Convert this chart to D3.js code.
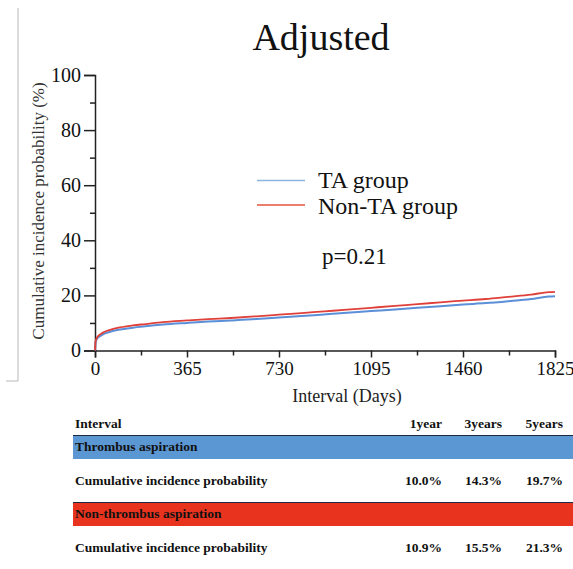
<!DOCTYPE html>
<html>
<head>
<meta charset="utf-8">
<script src="https://cdn.jsdelivr.net/npm/d3@7"></script>
<style>
  html, body { margin: 0; padding: 0; background: #fff; }
  svg { display: block; }
  svg text { font-family: "Liberation Serif", "Times New Roman", serif; }
</style>
</head>
<body>
<svg id="chart" width="573" height="569" font-family="Liberation Serif, serif"></svg>
<script>
// Cumulative incidence curves (days, percent)
const taDays    = [0, 2, 5, 10, 20, 30, 60, 100, 150, 200, 270, 365, 450, 540, 640, 730, 820, 910, 1000, 1095, 1190, 1280, 1370, 1460, 1550, 1640, 1730, 1800, 1825];
const taValues  = [0, 2.8, 3.7, 4.5, 5.2, 5.8, 6.8, 7.6, 8.3, 8.8, 9.4, 10.0, 10.5, 10.9, 11.4, 12.0, 12.5, 13.1, 13.7, 14.3, 14.9, 15.5, 16.1, 16.7, 17.2, 17.9, 18.7, 19.6, 19.7];
const nonDays   = [0, 2, 5, 10, 20, 30, 60, 100, 150, 200, 270, 365, 450, 540, 640, 730, 820, 910, 1000, 1095, 1190, 1280, 1370, 1460, 1550, 1640, 1730, 1800, 1825];
const nonValues = [0, 3.1, 4.1, 5.0, 5.8, 6.4, 7.5, 8.4, 9.1, 9.6, 10.3, 10.9, 11.4, 11.8, 12.4, 13.0, 13.6, 14.2, 14.8, 15.5, 16.2, 16.8, 17.5, 18.1, 18.7, 19.5, 20.3, 21.2, 21.3];

const xTicks = [0, 365, 730, 1095, 1460, 1825];
const xMinorTicks = [182.5, 547.5, 912.5, 1277.5, 1642.5];
const yTicks = [0, 20, 40, 60, 80, 100];
const yMinorTicks = [10, 30, 50, 70, 90];

const legendLabels = ["TA group", "Non-TA group"];
const pText = "p=0.21";

// Summary table
const tableColumns = ["1year", "3years", "5years"];
const groupNames = ["Thrombus aspiration", "Non-thrombus aspiration"];
const taRates = ["10.0%", "14.3%", "19.7%"];
const nonRates = ["10.9%", "15.5%", "21.3%"];

const blueLine = "#5b8fd8";
const redLine = "#e0403a";
const blueBar = "#5b97d3";
const redBar = "#e8341f";
const serif = "'Liberation Serif', 'Times New Roman', serif";

const svg = d3.select("#chart");

// Thin grey frame at the left edge
svg.append("line").attr("x1", 18).attr("x2", 18).attr("y1", 8).attr("y2", 381)
  .attr("stroke", "#b8b8b8").attr("stroke-width", 1);
svg.append("line").attr("x1", 6).attr("x2", 18).attr("y1", 381).attr("y2", 381)
  .attr("stroke", "#b8b8b8").attr("stroke-width", 1);

// Title
svg.append("text").attr("x", 321).attr("y", 50).attr("text-anchor", "middle")
  .attr("font-size", 38).attr("fill", "#111").text("Adjusted");

const x = d3.scaleLinear().domain([0, 1825]).range([95, 555]);
const y = d3.scaleLinear().domain([0, 100]).range([350.5, 75]);

const g = svg.append("g");

// Y axis
const yAxis = g.append("g").attr("transform", `translate(${x(0)},0)`)
  .call(d3.axisLeft(y).tickValues(yTicks).tickSize(11).tickPadding(3).tickFormat(d3.format("d")));
g.append("g").attr("transform", `translate(${x(0)},0)`)
  .call(d3.axisLeft(y).tickValues(yMinorTicks).tickSize(5).tickFormat(""))
  .select(".domain").remove();

// X axis
const xAxis = g.append("g").attr("transform", `translate(0,${y(0)})`)
  .call(d3.axisBottom(x).tickValues(xTicks).tickSize(7).tickPadding(4).tickFormat(d3.format("d")));
g.append("g").attr("transform", `translate(0,${y(0)})`)
  .call(d3.axisBottom(x).tickValues(xMinorTicks).tickSize(5).tickFormat(""))
  .select(".domain").remove();

g.selectAll("g").attr("font-family", serif);
g.selectAll(".domain").attr("stroke", "#222").attr("stroke-width", 1.5);
g.selectAll(".tick line").attr("stroke", "#222").attr("stroke-width", 1.5);
yAxis.selectAll(".tick text").style("font-family", serif).style("font-size", "20px").attr("fill", "#111");
xAxis.selectAll(".tick text").style("font-family", serif).style("font-size", "19px").attr("fill", "#111");

// Axis titles
svg.append("text").attr("transform", "translate(44,211) rotate(-90)")
  .attr("text-anchor", "middle").attr("font-size", 17).attr("fill", "#333")
  .text("Cumulative incidence probability (%)");
svg.append("text").attr("x", 347).attr("y", 402).attr("text-anchor", "middle")
  .attr("font-size", 18).attr("fill", "#222").text("Interval (Days)");

// Curves
const line = d3.line().x(d => x(d[0])).y(d => y(d[1])).curve(d3.curveMonotoneX);
const taData = taDays.map((d, i) => [d, taValues[i]]);
const nonData = nonDays.map((d, i) => [d, nonValues[i]]);

g.append("path").datum(taData).attr("d", line).attr("fill", "none")
  .attr("stroke", blueLine).attr("stroke-width", 2);
g.append("path").datum(nonData).attr("d", line).attr("fill", "none")
  .attr("stroke", redLine).attr("stroke-width", 1.8);

// Legend
const legendColors = ["#8ab6de", "#e5543a"];
const legendLineY = [180.5, 205];
const legendTextY = [188, 213.5];
legendLabels.forEach((lab, i) => {
  svg.append("line").attr("x1", 257).attr("x2", 305)
    .attr("y1", legendLineY[i]).attr("y2", legendLineY[i])
    .attr("stroke", legendColors[i]).attr("stroke-width", 1.5);
  svg.append("text").attr("x", 318).attr("y", legendTextY[i])
    .attr("font-size", 24).attr("fill", "#111").text(lab);
});
svg.append("text").attr("x", 322).attr("y", 264)
  .attr("font-size", 23).attr("fill", "#111").text(pText);

// Table
const tbl = svg.append("g").attr("font-weight", "bold").attr("font-size", 13.5).attr("fill", "#111");
const colRight = [442, 502, 563];
tbl.append("text").attr("x", 75).attr("y", 428).text("Interval");
tableColumns.forEach((c, i) => {
  tbl.append("text").attr("x", colRight[i]).attr("y", 428).attr("text-anchor", "end").text(c);
});

const bands = [
  { top: 435, name: groupNames[0], color: blueBar, rates: taRates, rowY: 485 },
  { top: 502, name: groupNames[1], color: redBar, rates: nonRates, rowY: 552 }
];
bands.forEach(b => {
  svg.append("rect").attr("x", 73).attr("y", b.top).attr("width", 500).attr("height", 24)
    .attr("fill", b.color);
  svg.append("line").attr("x1", 73).attr("x2", 573).attr("y1", b.top + 0.5).attr("y2", b.top + 0.5)
    .attr("stroke", "#1d2a44").attr("stroke-width", 1.2);
  svg.append("text").attr("x", 75).attr("y", b.top + 16).attr("font-weight", "bold")
    .attr("font-size", 13.5).attr("fill", "#111").text(b.name);
  tbl.append("text").attr("x", 75).attr("y", b.rowY).text("Cumulative incidence probability");
  b.rates.forEach((r, i) => {
    tbl.append("text").attr("x", colRight[i]).attr("y", b.rowY).attr("text-anchor", "end").text(r);
  });
});
</script>
</body>
</html>
